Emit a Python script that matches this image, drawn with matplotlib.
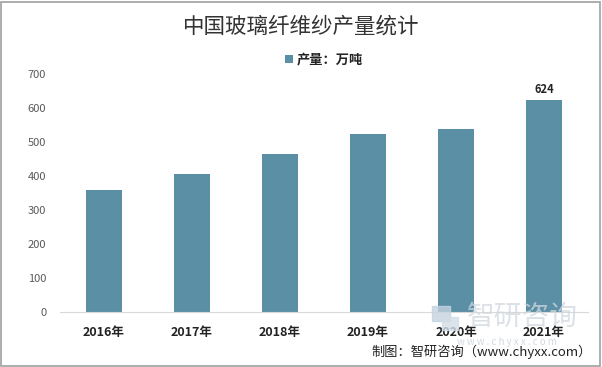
import matplotlib.pyplot as plt
from matplotlib.patches import Rectangle

plt.rcParams['font.family'] = ['Noto Sans CJK SC', 'DejaVu Sans']

years = ['2016年', '2017年', '2018年', '2019年', '2020年', '2021年']
output = [359, 406, 465, 524, 538, 624]
yticks = [0, 100, 200, 300, 400, 500, 600, 700]
bar_color = '#5b8fa6'

fig = plt.figure(figsize=(6.02, 3.67), dpi=100)
ax = fig.add_axes([0.0997, 0.1499, 0.877, 0.6485])

x = range(len(years))
ax.bar(x, output, width=0.4, color=bar_color, zorder=2, label='产量：万吨')
ax.set_xlim(-0.5, len(years) - 0.5)
ax.set_ylim(0, 700)
ax.set_yticks(yticks)
ax.set_yticklabels([str(v) for v in yticks], fontsize=8, color='#595959')
ax.set_xticks(list(x))
ax.set_xticklabels(years, fontsize=9, fontweight='bold', color='#222222')
ax.tick_params(axis='y', length=0, pad=10)
ax.tick_params(axis='x', length=0, pad=10)
for s in ['top', 'right', 'left']:
    ax.spines[s].set_visible(False)
ax.spines['bottom'].set_color('#d9d9d9')

# only last bar labelled
ax.text(5, output[-1] + 12, str(output[-1]), ha='center', va='bottom',
        fontsize=8, fontweight='bold', color='#222222')

fig.text(0.5, 0.927, '中国玻璃纤维纱产量统计', ha='center', va='center',
         fontsize=15.5, color='#333333')
leg = ax.legend(loc='center', bbox_to_anchor=(0.5, 1.06), frameon=False,
                prop={'size': 9.5, 'weight': 'bold'}, handlelength=0.6,
                handleheight=0.6, handletextpad=0.3)
for t in leg.get_texts():
    t.set_color('#222222')

# watermark (logo blocks + text)
fig.patches.append(Rectangle((0.718, 0.125), 0.03, 0.04, transform=fig.transFigure,
                             color='#c5d3e0', alpha=0.8, zorder=0))
fig.patches.append(Rectangle((0.735, 0.10), 0.025, 0.035, transform=fig.transFigure,
                             color='#d3dde6', alpha=0.8, zorder=0))
fig.text(0.867, 0.136, '智研咨询', ha='center', va='center', fontsize=20,
         color='#d0d7de', alpha=0.75, zorder=0)
fig.text(0.842, 0.068, 'w w w . c h y x x . c o m', ha='center', va='center',
         fontsize=7, color='#d3dae1', zorder=0)

fig.text(0.983, 0.041, '制图：智研咨询（www.chyxx.com）', ha='right', va='center',
         fontsize=9.5, color='#222222')

fig.patches.append(Rectangle((0.002, 0.004), 0.994, 0.99, transform=fig.transFigure,
                             fill=False, edgecolor='#a0a0a0', linewidth=1.2))

fig.savefig('out.png', dpi=100)
